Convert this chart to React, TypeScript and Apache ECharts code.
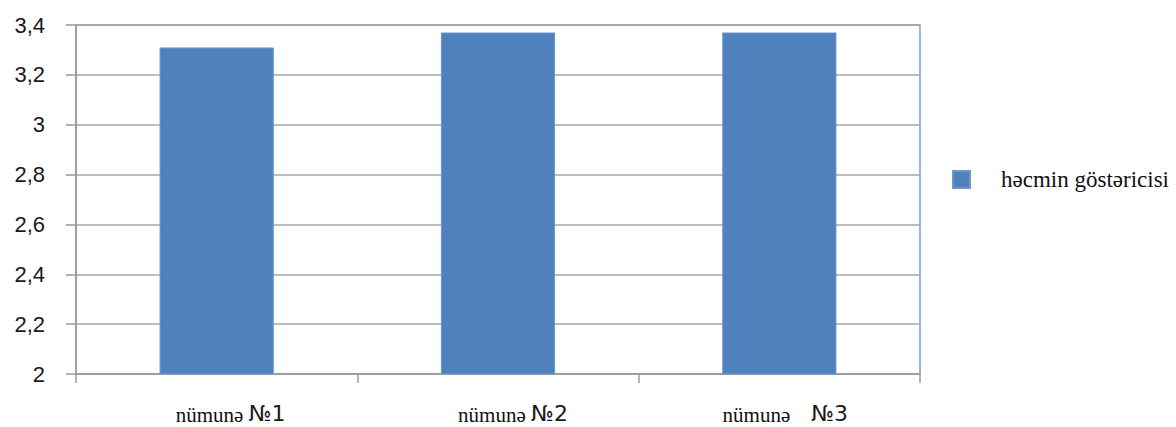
import React, { useEffect, useRef } from "react";
import * as echarts from "echarts";

const categories = ["nümunə №1", "nümunə №2", "nümunə    №3"];
const seriesName = "həcmin göstəricisi";
const values = [3.31, 3.37, 3.37];

const SERIF = "'Liberation Serif', 'DejaVu Serif', serif";
const SANS = "'Liberation Sans', Arial, sans-serif";
const labelShift = [28, 30, 12];

export default function App() {
  const ref = useRef<HTMLDivElement>(null);
  useEffect(() => {
    document.body.style.margin = "0";
    const chart = echarts.init(ref.current!, null, { renderer: "svg" });
    const rich: Record<string, any> = {
      b: { fontFamily: "'DejaVu Sans', sans-serif", fontSize: 22, color: "#1a1a1a" },
    };
    labelShift.forEach((s, i) => {
      rich["a" + i] = { fontFamily: SERIF, fontSize: 21, color: "#111", padding: [2, 0, 0, s] };
    });
    chart.setOption({
      animation: false,
      backgroundColor: "#ffffff",
      grid: {
        left: 76,
        right: 256,
        top: 25,
        bottom: 53,
        show: true,
        borderColor: "#7C9FD0",
        borderWidth: 1.5,
        backgroundColor: "transparent",
      },
      legend: {
        show: true,
        left: 952,
        top: 168,
        padding: 0,
        icon: "rect",
        itemWidth: 17,
        itemHeight: 17,
        data: [seriesName],
        textStyle: {
          fontFamily: SERIF,
          fontSize: 23,
          color: "#111",
          padding: [-10, 0, 0, 26],
        },
      },
      xAxis: {
        type: "category",
        data: categories,
        boundaryGap: true,
        axisLine: { show: true, lineStyle: { color: "#9a9a9a", width: 1.5 } },
        axisTick: { show: true, alignWithLabel: false, length: 9, lineStyle: { color: "#9a9a9a", width: 1.5 } },
        axisLabel: {
          margin: 28,
          formatter: (v: string, i: number) => {
            const idx = v.indexOf("№");
            return "{a" + i + "|" + v.slice(0, idx) + "}{b|" + v.slice(idx) + "}";
          },
          rich,
        },
      },
      yAxis: {
        type: "value",
        min: 2,
        max: 3.4,
        interval: 0.2,
        axisLine: { show: true, lineStyle: { color: "#9a9a9a", width: 1.5 } },
        axisTick: { show: true, inside: false, length: 10, lineStyle: { color: "#9a9a9a", width: 1.5 } },
        splitLine: { show: true, lineStyle: { color: "#a6a6a6", width: 1.5 } },
        axisLabel: {
          margin: 31,
          fontFamily: SANS,
          fontSize: 22,
          color: "#1a1a1a",
          formatter: (v: number) => String(Math.round(v * 10) / 10).replace(".", ","),
        },
      },
      series: [
        {
          name: seriesName,
          type: "bar",
          data: values,
          barWidth: "40.6%",
          itemStyle: { color: "#4F81BD", borderColor: "#6f97cc", borderWidth: 1 },
        },
      ],
    });
    return () => chart.dispose();
  }, []);
  return <div ref={ref} style={{ width: 1176, height: 427 }} />;
}
